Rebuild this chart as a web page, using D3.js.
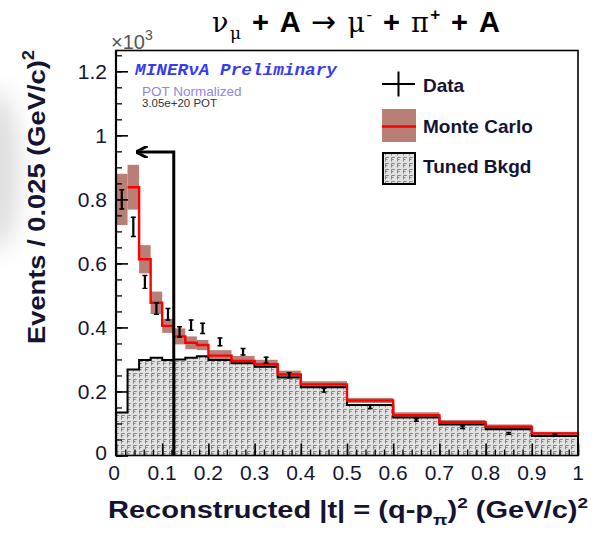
<!DOCTYPE html>
<html>
<head>
<meta charset="utf-8">
<script src="https://cdn.jsdelivr.net/npm/d3@7"></script>
<style>
  html, body { margin: 0; padding: 0; background: #fff; }
  svg { display: block; font-family: "Liberation Sans", Arial, Helvetica, sans-serif; }
</style>
</head>
<body>
<svg id="chart" width="598" height="537"></svg>
<script>
// Bin edges of the |t| histogram, (GeV/c)^2
const binEdges = [0, 0.025, 0.05, 0.075, 0.1, 0.125, 0.15, 0.175, 0.2, 0.25, 0.3, 0.35, 0.4, 0.5, 0.6, 0.7, 0.8, 0.9, 1.0];
// Monte Carlo prediction (x10^3 events) and its systematic band half-width
const mcValues = [0.80, 0.838, 0.613, 0.477, 0.405, 0.372, 0.352, 0.345, 0.312, 0.295, 0.285, 0.253, 0.222, 0.172, 0.126, 0.104, 0.090, 0.069];
const mcBand   = [0.08, 0.07, 0.044, 0.035, 0.022, 0.025, 0.02, 0.016, 0.017, 0.016, 0.014, 0.012, 0.010, 0.008, 0.009, 0.007, 0.007, 0.005];
// Tuned background (x10^3 events)
const bkgdValues = [0.134, 0.269, 0.298, 0.305, 0.298, 0.300, 0.305, 0.310, 0.298, 0.288, 0.277, 0.244, 0.213, 0.158, 0.119, 0.097, 0.082, 0.061];
// Data (x10^3 events) and statistical errors
const dataValues = [0.80, 0.714, 0.542, 0.459, 0.441, 0.386, 0.407, 0.397, 0.355, 0.324, 0.298, 0.251, 0.204, 0.152, 0.111, 0.088, 0.069, 0.064];
const dataErrors = [0.03, 0.03, 0.02, 0.018, 0.018, 0.016, 0.016, 0.016, 0.012, 0.010, 0.009, 0.008, 0.006, 0.005, 0.004, 0.004, 0.003, 0.003];
// Axis tick labels
const xTickValues = [0, 0.1, 0.2, 0.3, 0.4, 0.5, 0.6, 0.7, 0.8, 0.9, 1];
const xTickLabels = ["0", "0.1", "0.2", "0.3", "0.4", "0.5", "0.6", "0.7", "0.8", "0.9", "1"];
const yTickValues = [0, 0.2, 0.4, 0.6, 0.8, 1.0, 1.2];
const yTickLabels = ["0", "0.2", "0.4", "0.6", "0.8", "1", "1.2"];
// |t| cut marker: cut position, arrow height and arrow end
const cutT = 0.125, cutHeight = 0.948, cutArrowEnd = 0.045;

const svg = d3.select("#chart");
const pLeft = 116, pRight = 578, pTop = 50.5, pBottom = 455.5;
const x = d3.scaleLinear().domain([0, 1]).range([pLeft, pRight]);
const y = d3.scaleLinear().domain([0, 1.265]).range([pBottom, pTop]);

const bins = mcValues.map((v, i) => ({
  lo: binEdges[i], hi: binEdges[i + 1], mc: v, band: mcBand[i],
  bkgd: bkgdValues[i], data: dataValues[i], err: dataErrors[i]
}));

const defs = svg.append("defs");
const pat = defs.append("pattern").attr("id", "hatch")
  .attr("patternUnits", "userSpaceOnUse").attr("width", 6).attr("height", 6);
pat.append("rect").attr("width", 6).attr("height", 6).attr("fill", "#e2e2e2");
pat.append("path").attr("d", "M1.5,5.5V1.5H4.8M1.5,3.5H3.5")
  .attr("fill", "none").attr("stroke", "#858585").attr("stroke-width", 1);
defs.append("filter").attr("id", "soft").attr("x", "-100%").attr("y", "-100%")
  .attr("width", "300%").attr("height", "300%")
  .append("feGaussianBlur").attr("stdDeviation", 12);
defs.append("marker").attr("id", "arrowhead").attr("viewBox", "0 0 10 10")
  .attr("refX", 9).attr("refY", 5).attr("markerWidth", 4).attr("markerHeight", 4)
  .attr("orient", "auto")
  .append("path").attr("d", "M0,0L10,5L0,10").attr("fill", "none")
  .attr("stroke", "#000").attr("stroke-width", 2.4);

// faint grey smudge on the left margin
svg.append("ellipse").attr("cx", -4).attr("cy", 170).attr("rx", 24).attr("ry", 80)
  .attr("fill", "#dedede").attr("filter", "url(#soft)");

// step path helper
function stepPath(key) {
  let d = `M${x(bins[0].lo)},${y(0)}`;
  bins.forEach(b => { d += `V${y(b[key])}H${x(b.hi)}`; });
  d += `V${y(0)}`;
  return d;
}

const plot = svg.append("g");

// MC systematic band
plot.selectAll("rect.band").data(bins).join("rect").attr("class", "band")
  .attr("x", d => x(d.lo)).attr("width", d => x(d.hi) - x(d.lo))
  .attr("y", d => y(d.mc + d.band)).attr("height", d => y(d.mc - d.band) - y(d.mc + d.band))
  .attr("fill", "#b97f77");

// Tuned background: hatched fill + black outline
plot.append("path").attr("d", stepPath("bkgd") + "Z").attr("fill", "url(#hatch)");
plot.append("path").attr("d", stepPath("bkgd")).attr("fill", "none")
  .attr("stroke", "#000").attr("stroke-width", 2);

// Monte Carlo central value (line starts at the second bin; first bin shows the band only)
let mcD = "";
bins.slice(1).forEach((b, i) => {
  mcD += (i === 0 ? `M${x(b.lo)},${y(b.mc)}` : `V${y(b.mc)}`) + `H${x(b.hi)}`;
});
mcD += `V${y(bkgdValues[bkgdValues.length - 1])}`;
plot.append("path").attr("d", mcD).attr("fill", "none")
  .attr("stroke", "#ff0000").attr("stroke-width", 2.4);

// Data error bars
const dg = plot.selectAll("g.data").data(bins).join("g").attr("class", "data");
dg.append("line")
  .attr("x1", d => x((d.lo + d.hi) / 2)).attr("x2", d => x((d.lo + d.hi) / 2))
  .attr("y1", d => y(d.data - d.err) + 0.5).attr("y2", d => y(d.data + d.err) - 0.5)
  .attr("stroke", "#000").attr("stroke-width", 2.2);
dg.append("path")
  .attr("d", d => {
    const cx = x((d.lo + d.hi) / 2), y1 = y(d.data + d.err), y2 = y(d.data - d.err);
    return `M${cx - 2.5},${y1}H${cx + 2.5}M${cx - 2.5},${y2}H${cx + 2.5}`;
  })
  .attr("stroke", "#000").attr("stroke-width", 1.4).attr("fill", "none");

// Cut on |t| with arrow
svg.append("path")
  .attr("d", `M${x(cutT)},${y(0)}V${y(cutHeight)}H${x(cutArrowEnd)}`)
  .attr("fill", "none").attr("stroke", "#000").attr("stroke-width", 3)
  .attr("marker-end", "url(#arrowhead)");

// Frame
svg.append("rect").attr("x", pLeft).attr("y", pTop).attr("width", pRight - pLeft).attr("height", pBottom - pTop)
  .attr("fill", "none").attr("stroke", "#000").attr("stroke-width", 1.6);

// Axes: ticks pointing inward, ROOT style
const xAxis = d3.axisTop(x).tickValues(xTickValues).tickSize(12).tickFormat("");
const gx = svg.append("g").attr("transform", `translate(0,${pBottom})`).call(xAxis);
gx.select(".domain").remove();
gx.selectAll(".tick line").attr("stroke", "#000").attr("stroke-width", 1.6);
const xMinor = d3.axisTop(x).tickValues(d3.range(0, 1.0001, 0.02)).tickSize(6).tickFormat("");
const gxm = svg.append("g").attr("transform", `translate(0,${pBottom})`).call(xMinor);
gxm.select(".domain").remove();
gxm.selectAll(".tick line").attr("stroke", "#000").attr("stroke-width", 1.3);

svg.append("g").selectAll("text").data(xTickValues).join("text")
  .attr("x", d => x(d) + (d === 0 ? -2 : 0)).attr("y", 480)
  .attr("text-anchor", "middle").attr("font-size", 21).attr("fill", "#141432")
  .text((d, i) => xTickLabels[i]);

const yAxis = d3.axisRight(y).tickValues(yTickValues).tickSize(12).tickFormat("");
const gy = svg.append("g").attr("transform", `translate(${pLeft},0)`).call(yAxis);
gy.select(".domain").remove();
gy.selectAll(".tick line").attr("stroke", "#000").attr("stroke-width", 1.6);
const yMinor = d3.axisRight(y).tickValues(d3.range(0, 1.2501, 0.05)).tickSize(6).tickFormat("");
const gym = svg.append("g").attr("transform", `translate(${pLeft},0)`).call(yMinor);
gym.select(".domain").remove();
gym.selectAll(".tick line").attr("stroke", "#000").attr("stroke-width", 1.3);
svg.append("line").attr("x1", pLeft).attr("x2", pLeft).attr("y1", pTop).attr("y2", pBottom)
  .attr("stroke", "#000").attr("stroke-width", 2.2);

svg.append("g").selectAll("text").data(yTickValues).join("text")
  .attr("x", 107).attr("y", d => y(d) + (d === 0 ? 4 : 7.5))
  .attr("text-anchor", "end").attr("font-size", 21).attr("fill", "#141432")
  .text((d, i) => yTickLabels[i]);

// x10^3 multiplier
const mult = svg.append("text").attr("x", 111).attr("y", 49).attr("font-size", 20).attr("fill", "#555");
mult.append("tspan").text("\u00d710");
mult.append("tspan").attr("font-size", 14).attr("dy", -9).text("3");

// Axis titles
const yt = svg.append("text").attr("transform", "translate(45,197) rotate(-90)")
  .attr("text-anchor", "middle").attr("font-size", 24).attr("font-weight", "bold").attr("fill", "#141432")
  .attr("textLength", 294).attr("lengthAdjust", "spacingAndGlyphs");
yt.append("tspan").text("Events / 0.025 (GeV/c)");
yt.append("tspan").attr("font-size", 16).attr("dy", -11).text("2");

const xt = svg.append("text").attr("x", 108).attr("y", 518)
  .attr("font-size", 23).attr("font-weight", "bold").attr("fill", "#141432")
  .attr("textLength", 480).attr("lengthAdjust", "spacingAndGlyphs");
xt.append("tspan").text("Reconstructed |t| = (q-p");
xt.append("tspan").attr("font-size", 15).attr("dy", 7).text("\u03c0");
xt.append("tspan").attr("dy", -7).text(")");
xt.append("tspan").attr("font-size", 15).attr("dy", -10).text("2");
xt.append("tspan").attr("dy", 10).text(" (GeV/c)");
xt.append("tspan").attr("font-size", 15).attr("dy", -10).text("2");

// Title: nu_mu + A -> mu- + pi+ + A
const title = svg.append("text").attr("x", 212).attr("y", 32).attr("font-size", 29)
  .attr("fill", "#000").attr("textLength", 288).attr("lengthAdjust", "spacing");
const serif = "'DejaVu Serif', 'Liberation Serif', serif";
function tsp(txt, opts, fam) {
  const t = title.append("tspan").text(txt);
  Object.entries(opts || {}).forEach(([k, v]) => t.attr(k, v));
  if (fam) t.style("font-family", fam);
  return t;
}
tsp("\u03bd", { "font-size": 27 }, serif);
tsp("\u03bc", { "font-size": 17, dy: 7 }, serif);
tsp(" + A ", { "font-weight": "bold", dy: -7 });
tsp("\u2192", { "font-size": 30 }, "'DejaVu Sans', sans-serif");
tsp(" \u03bc", { "font-size": 27 }, serif);
tsp("-", { "font-size": 17, dy: -12 });
tsp(" + ", { "font-weight": "bold", dy: 12 });
tsp("\u03c0", { "font-size": 27 }, serif);
tsp("+", { "font-size": 17, "font-weight": "bold", dy: -12 });
tsp(" + A", { "font-weight": "bold", dy: 12 });

// Experiment labels
svg.append("text").attr("x", 135).attr("y", 75)
  .style("font-family", "'Liberation Mono', 'DejaVu Sans Mono', monospace")
  .attr("font-size", 17).attr("font-weight", "bold").attr("font-style", "italic")
  .attr("fill", "#3a3af0").attr("textLength", 202).attr("lengthAdjust", "spacingAndGlyphs")
  .text("MINER\u03bdA Preliminary");
svg.append("text").attr("x", 142).attr("y", 96).attr("font-size", 13.5)
  .attr("fill", "#8f86e6").text("POT Normalized");
svg.append("text").attr("x", 142).attr("y", 107).attr("font-size", 10)
  .attr("fill", "#333").attr("textLength", 75).attr("lengthAdjust", "spacingAndGlyphs")
  .text("3.05e+20 POT");

// Legend
const lg = svg.append("g");
lg.append("path").attr("d", "M382,84H415M398.5,71.5V96.5").attr("stroke", "#000").attr("stroke-width", 2);
lg.append("rect").attr("x", 382).attr("y", 109).attr("width", 34).attr("height", 33).attr("fill", "#b97f77");
lg.append("line").attr("x1", 382).attr("x2", 416).attr("y1", 126.5).attr("y2", 126.5)
  .attr("stroke", "#ff0000").attr("stroke-width", 2.4);
lg.append("rect").attr("x", 383).attr("y", 153).attr("width", 32).attr("height", 31)
  .attr("fill", "url(#hatch)").attr("stroke", "#000").attr("stroke-width", 2);
const legendLabels = ["Data", "Monte Carlo", "Tuned Bkgd"];
lg.selectAll("text").data(legendLabels).join("text")
  .attr("x", 423).attr("y", (d, i) => 92 + i * 40.5)
  .attr("font-size", 19).attr("font-weight", "bold").attr("fill", "#141432")
  .text(d => d);
</script>
</body>
</html>
